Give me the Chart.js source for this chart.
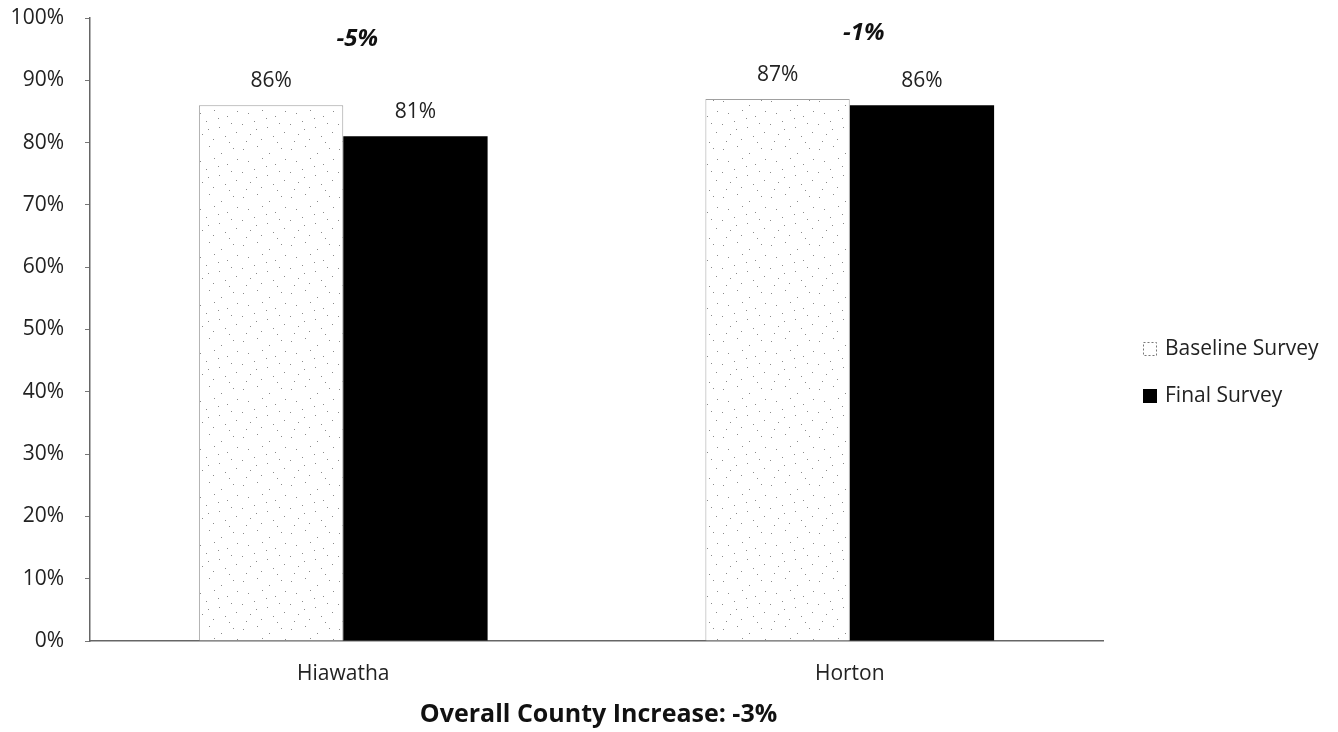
<!DOCTYPE html>
<html lang="en">
<head>
<meta charset="UTF-8">
<title>Baseline vs Final Survey</title>
<script src="https://cdn.jsdelivr.net/npm/chart.js"></script>
<style>
  html, body { margin: 0; padding: 0; background: #fff; }
  #wrap { width: 1338px; height: 732px; }
</style>
</head>
<body>
<div id="wrap"><canvas id="myChart" width="1338" height="732"></canvas></div>
<script>
// chart values
const categories = ['Hiawatha', 'Horton'];
const baselineValues = [86, 87];
const finalValues = [81, 86];
const changeLabels = ['-5%', '-1%'];
const seriesNames = ['Baseline Survey', 'Final Survey'];
const overallLabel = 'Overall County Increase: -3%';

const FONT = "'Open Sans', 'DejaVu Sans', sans-serif";

// speckled fill for the baseline bars (fixed dot layout)
function makeStipple() {
    const c = document.createElement('canvas');
    c.width = 48; c.height = 48;
    const g = c.getContext('2d');
    g.fillStyle = '#fff';
    g.fillRect(0, 0, 48, 48);
    const dots = [[3,5],[17,2],[29,9],[41,4],[8,17],[22,14],[35,20],[45,15],[2,28],
                  [14,25],[27,31],[39,27],[10,38],[21,43],[33,40],[44,36],[6,45],[26,22],[16,33],[37,46]];
    g.fillStyle = '#8a8a8a';
    dots.forEach(([x, y]) => g.fillRect(x, y, 1, 1));
    return g.createPattern(c, 'repeat');
}

const valueLabels = {
    id: 'valueLabels',
    afterDatasetsDraw(chart) {
        const ctx = chart.ctx;
        ctx.save();
        ctx.font = '21px ' + FONT;
        ctx.fillStyle = '#222';
        ctx.textAlign = 'center';
        ctx.textBaseline = 'middle';
        chart.data.datasets.forEach((ds, di) => {
            chart.getDatasetMeta(di).data.forEach((bar, i) => {
                ctx.fillText(ds.data[i] + '%', bar.x, bar.y - 24);
            });
        });
        ctx.restore();
    }
};

const changeNotes = {
    id: 'changeNotes',
    afterDatasetsDraw(chart) {
        const ctx = chart.ctx;
        const xs = chart.scales.x, ys = chart.scales.y;
        ctx.save();
        ctx.font = 'italic bold 24px ' + FONT;
        ctx.fillStyle = '#111';
        ctx.textAlign = 'center';
        ctx.textBaseline = 'middle';
        changeLabels.forEach((t, i) => {
            const top = Math.max(baselineValues[i], finalValues[i]);
            ctx.fillText(t, xs.getPixelForValue(i) + 14, ys.getPixelForValue(top) - 66);
        });
        ctx.restore();
    }
};

const sideLegend = {
    id: 'sideLegend',
    afterDraw(chart) {
        const ctx = chart.ctx;
        ctx.save();
        ctx.font = '21px ' + FONT;
        ctx.textBaseline = 'middle';
        chart.data.datasets.forEach((ds, i) => {
            const y = 349 + i * 47;
            if (i === 0) {
                ctx.fillStyle = '#fff';
                ctx.fillRect(1143, y - 7, 14, 14);
                ctx.strokeStyle = '#777';
                ctx.setLineDash([2, 2]);
                ctx.strokeRect(1143.5, y - 6.5, 13, 13);
                ctx.setLineDash([]);
            } else {
                ctx.fillStyle = '#000';
                ctx.fillRect(1143, y - 7, 14, 14);
            }
            ctx.fillStyle = '#222';
            ctx.fillText(ds.label, 1165, y);
        });
        ctx.restore();
    }
};

const bottomTitle = {
    id: 'bottomTitle',
    afterDraw(chart) {
        const ctx = chart.ctx;
        const a = chart.chartArea;
        ctx.save();
        ctx.font = 'bold 25px ' + FONT;
        ctx.fillStyle = '#111';
        ctx.textAlign = 'center';
        ctx.textBaseline = 'alphabetic';
        ctx.fillText(overallLabel, (a.left + a.right) / 2 + 2, 722);
        ctx.restore();
    }
};

const ctx = document.getElementById('myChart').getContext('2d');
new Chart(ctx, {
    type: 'bar',
    data: {
        labels: categories,
        datasets: [{
            label: seriesNames[0],
            data: baselineValues,
            backgroundColor: makeStipple(),
            borderColor: '#a0a0a0',
            borderWidth: { top: 1, left: 1, right: 1, bottom: 0 },
            barPercentage: 1,
            categoryPercentage: 0.57
        }, {
            label: seriesNames[1],
            data: finalValues,
            backgroundColor: '#000',
            borderWidth: 0,
            barPercentage: 1,
            categoryPercentage: 0.57
        }]
    },
    options: {
        responsive: false,
        animation: false,
        layout: { padding: { top: 18, right: 235, bottom: 0, left: 0 } },
        plugins: {
            legend: { display: false },
            tooltip: { enabled: false }
        },
        scales: {
            x: {
                afterFit(scale) { scale.height = 91; scale.paddingLeft = 0; scale.paddingRight = 0; },
                grid: { display: false, drawTicks: false },
                border: { display: true, color: '#666', width: 1.5 },
                ticks: { font: { family: FONT, size: 21 }, color: '#222', padding: 20 }
            },
            y: {
                min: 0,
                max: 100,
                afterFit(scale) { scale.width = 90; scale.paddingTop = 0; scale.paddingBottom = 0; },
                grid: { drawOnChartArea: false, tickLength: 5, tickColor: '#777' },
                border: { display: true, color: '#666', width: 1.5 },
                ticks: {
                    stepSize: 10,
                    font: { family: FONT, size: 21 },
                    color: '#222',
                    padding: 21,
                    callback: v => v + '%'
                }
            }
        }
    },
    plugins: [valueLabels, changeNotes, sideLegend, bottomTitle]
});
</script>
</body>
</html>
